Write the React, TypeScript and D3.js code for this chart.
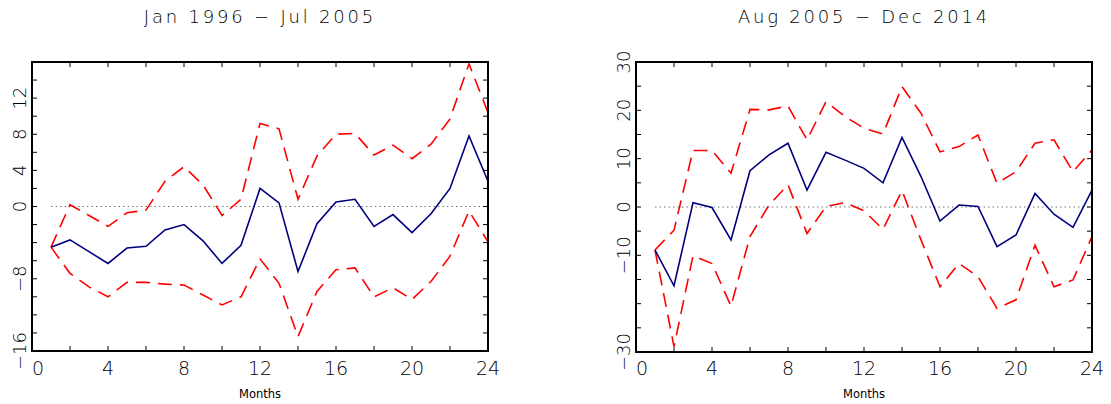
import React from "react";
import * as d3 from "d3";

const months = [1, 2, 3, 4, 5, 6, 7, 8, 9, 10, 11, 12, 13, 14, 15, 16, 17, 18, 19, 20, 21, 22, 23, 24];

const leftTitle = "Jan 1996 \u2212 Jul 2005";
const leftMean = [-4.5, -3.7, -5.0, -6.3, -4.6, -4.4, -2.6, -2.0, -3.8, -6.3, -4.3, 2.0, 0.4, -7.2, -1.9, 0.5, 0.8, -2.2, -0.9, -2.9, -0.8, 2.0, 7.8, 2.8];
const leftUpper = [-4.5, 0.2, -1.0, -2.2, -0.7, -0.4, 2.8, 4.4, 2.4, -1.0, 0.8, 9.2, 8.6, 0.8, 5.6, 8.0, 8.1, 5.7, 6.8, 5.3, 6.9, 9.7, 15.8, 10.4];
const leftLower = [-4.5, -7.4, -8.9, -10.0, -8.4, -8.4, -8.6, -8.7, -9.8, -10.9, -10.0, -5.8, -8.5, -14.4, -9.4, -7.0, -6.8, -10.0, -9.0, -10.3, -8.3, -5.5, -0.5, -3.9];
const leftYDomain = [-16, 16];
const leftYTickValues = d3.range(-16, 16.01, 2);
const leftYLabels = [12, 8, 4, 0, -8, -16];

const rightTitle = "Aug 2005 \u2212 Dec 2014";
const rightMean = [-8.9, -16.3, 0.9, -0.1, -6.8, 7.5, 10.8, 13.2, 3.5, 11.3, 9.7, 8.0, 5.0, 14.4, 6.3, -2.9, 0.4, 0.1, -8.2, -5.8, 2.8, -1.5, -4.2, 3.5];
const rightUpper = [-8.9, -4.8, 11.7, 11.7, 7.0, 20.2, 20.1, 20.9, 13.9, 21.8, 18.7, 16.3, 15.1, 24.9, 19.4, 11.4, 12.5, 14.9, 4.9, 7.3, 13.2, 13.9, 7.3, 11.8];
const rightLower = [-8.9, -28.9, -10.1, -11.7, -20.5, -6.1, 0.4, 4.6, -5.5, 0.1, 0.9, -0.8, -4.6, 3.4, -6.8, -16.5, -11.7, -14.4, -21.0, -19.2, -7.9, -16.5, -15.1, -6.1];
const rightYDomain = [-30, 30];
const rightYTickValues = d3.range(-30, 30.01, 5);
const rightYLabels = [30, 20, 10, 0, -10, -30];

const xDomain = [0, 24];
const xTickValues = d3.range(0, 24.01, 2);
const xLabels = [0, 4, 8, 12, 16, 20, 24];
const xTitle = "Months";

const FONT = "'DejaVu Sans', sans-serif";

function fmt(v: number) {
  return v < 0 ? "\u2212" + Math.abs(v) : String(v);
}

type PanelProps = {
  left: number;
  right: number;
  top: number;
  bottom: number;
  title: string;
  mean: number[];
  upper: number[];
  lower: number[];
  yDomain: number[];
  yTicks: number[];
  yLabels: number[];
  labelX: number;
};

function Panel(p: PanelProps) {
  const x = d3.scaleLinear().domain(xDomain).range([p.left, p.right]);
  const y = d3.scaleLinear().domain(p.yDomain).range([p.bottom, p.top]);
  const line = d3
    .line<number>()
    .x((_, i) => x(months[i]))
    .y((d) => y(d));
  const tickLen = 5;
  const cx = (p.left + p.right) / 2;
  return (
    <g>
      <text x={cx} y={23} textAnchor="middle" fontFamily={FONT} fontSize={18} fontWeight={200} fill="#000" letterSpacing={2.8}>
        {p.title}
      </text>
      <line x1={x(1)} x2={x(24)} y1={y(0)} y2={y(0)} stroke="#777" strokeWidth={1.2} strokeDasharray="1.5,3" />
      <path d={line(p.upper) || ""} fill="none" stroke="#ff0000" strokeWidth={1.6} strokeDasharray="14,8" />
      <path d={line(p.lower) || ""} fill="none" stroke="#ff0000" strokeWidth={1.6} strokeDasharray="14,8" />
      <path d={line(p.mean) || ""} fill="none" stroke="#00007f" strokeWidth={1.6} />
      {xTickValues.map((t) => (
        <g key={"xt" + t}>
          <line x1={x(t)} x2={x(t)} y1={p.bottom} y2={p.bottom - tickLen} stroke="#000" strokeWidth={1} />
          <line x1={x(t)} x2={x(t)} y1={p.top} y2={p.top + tickLen} stroke="#000" strokeWidth={1} />
        </g>
      ))}
      {p.yTicks.map((t) => (
        <g key={"yt" + t}>
          <line x1={p.left} x2={p.left + tickLen} y1={y(t)} y2={y(t)} stroke="#000" strokeWidth={1} />
          <line x1={p.right} x2={p.right - tickLen} y1={y(t)} y2={y(t)} stroke="#000" strokeWidth={1} />
        </g>
      ))}
      <rect x={p.left} y={p.top} width={p.right - p.left} height={p.bottom - p.top} fill="none" stroke="#000" strokeWidth={2} />
      {xLabels.map((t) => (
        <text key={"xl" + t} x={x(t) + (t === 0 ? 6 : 0)} y={375} textAnchor="middle" fontFamily={FONT} fontSize={19} fontWeight={200} fill="#000">
          {fmt(t)}
        </text>
      ))}
      {p.yLabels.map((t) => (
        <text
          key={"yl" + t}
          transform={`translate(${p.labelX},${y(t)}) rotate(-90)`}
          textAnchor="middle"
          dy="0.35em"
          fontFamily={FONT}
          fontSize={18}
          fontWeight={200}
          fill="#000"
        >
          {fmt(t)}
        </text>
      ))}
      <text x={cx} y={398} textAnchor="middle" fontFamily={FONT} fontSize={11.5} fill="#000">
        {xTitle}
      </text>
    </g>
  );
}

export default function App() {
  return (
    <svg
      width={1111}
      height={404}
      style={{ position: "absolute", left: 0, top: 0, background: "#fff", display: "block" }}
    >
      <rect width={1111} height={404} fill="#fff" />
      <Panel
        left={32}
        right={488}
        top={62}
        bottom={351}
        title={leftTitle}
        mean={leftMean}
        upper={leftUpper}
        lower={leftLower}
        yDomain={leftYDomain}
        yTicks={leftYTickValues}
        yLabels={leftYLabels}
        labelX={20}
      />
      <Panel
        left={636}
        right={1092}
        top={62}
        bottom={352}
        title={rightTitle}
        mean={rightMean}
        upper={rightUpper}
        lower={rightLower}
        yDomain={rightYDomain}
        yTicks={rightYTickValues}
        yLabels={rightYLabels}
        labelX={624}
      />
    </svg>
  );
}
